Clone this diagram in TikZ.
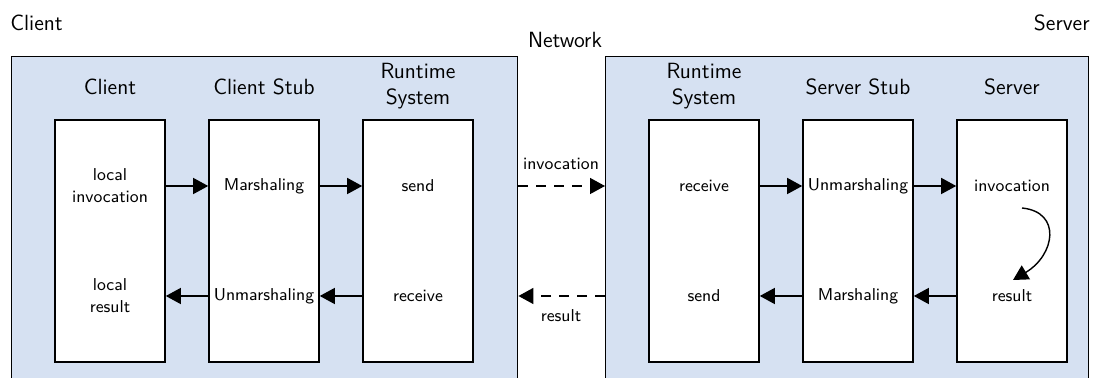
\documentclass[tikz,border=0pt]{standalone}
\usetikzlibrary{arrows.meta}
\definecolor{tierfill}{RGB}{214,225,242}
\begin{document}
\begin{tikzpicture}[x=0.5pt,y=-0.5pt,
  font=\sffamily,
  tier/.style={fill=tierfill,draw=black,line width=0.7pt,inner sep=0pt,anchor=north west},
  blk/.style={draw=black,fill=white,line width=0.8pt,minimum width=55pt,minimum height=121pt,inner sep=0pt},
  head/.style={font=\sffamily\fontsize{11}{13}\selectfont,align=center,inner sep=0pt},
  item/.style={font=\sffamily\fontsize{8.6}{11}\selectfont,align=center,inner sep=0pt},
  flow/.style={-{Triangle[length=7.5pt,width=8pt]},line width=0.7pt},
  net/.style={flow,dash pattern=on 5pt off 4pt},
]
\useasboundingbox (0,0) rectangle (1098,378);
\clip (0,0) rectangle (1098,378);

% the two machines (their lower edge runs off the page)
\node[tier,minimum width=253pt,minimum height=172pt] (cl) at (11,56) {};
\node[tier,minimum width=241.5pt,minimum height=172pt] (sv) at (605,56) {};

% titles
\node[head,anchor=west] (tcl) at (10,23) {Client};
\node[head,anchor=east] (tsv) at (1090,23) {Server};
\node[head] (tnet) at (565,40) {Network};

% layer boxes
\node[blk] (b1) at (110,241) {};
\node[blk] (b2) at (264,241) {};
\node[blk] (b3) at (418,241) {};
\node[blk] (b4) at (704,241) {};
\node[blk] (b5) at (858,241) {};
\node[blk] (b6) at (1012,241) {};

% layer headings
\node[head] (h1) at (110,87) {Client};
\node[head] (h2) at (264,87) {Client Stub};
\node[head] (h3) at (418,86) {Runtime\\System};
\node[head] (h4) at (704,86) {Runtime\\System};
\node[head] (h5) at (858,87) {Server Stub};
\node[head] (h6) at (1012,87) {Server};

% request row
\node[item] (c1) at (110,186) {local\\invocation};
\node[item] (c2) at (264,186) {Marshaling};
\node[item] (c3) at (418,186) {send};
\node[item] (s1) at (704,186) {receive};
\node[item] (s2) at (858,186) {Unmarshaling};
\node[item] (s3) at (1012,186) {invocation};

% reply row
\node[item] (d1) at (110,296) {local\\result};
\node[item] (d2) at (264,296) {Unmarshaling};
\node[item] (d3) at (418,296) {receive};
\node[item] (r1) at (704,296) {send};
\node[item] (r2) at (858,296) {Marshaling};
\node[item] (r3) at (1012,296) {result};

% network labels
\node[item] (ninv) at (561,164) {invocation};
\node[item] (nres) at (561,316) {result};

% request path
\draw[flow] (b1.east |- c2.center) -- (b2.west |- c2.center);
\draw[flow] (b2.east |- c2.center) -- (b3.west |- c2.center);
\draw[net]  (cl.east |- c2.center) -- (sv.west |- c2.center);
\draw[flow] (b4.east |- s2.center) -- (b5.west |- s2.center);
\draw[flow] (b5.east |- s2.center) -- (b6.west |- s2.center);

% server-side execution
\coordinate (loopA) at (1022,208);
\coordinate (loopB) at (1013,280);
\draw[flow] (loopA) .. controls (1062,212) and (1055,255) .. (loopB);

% reply path
\draw[flow] (b6.west |- r2.center) -- (b5.east |- r2.center);
\draw[flow] (b5.west |- r2.center) -- (b4.east |- r2.center);
\draw[net]  (sv.west |- r2.center) -- (cl.east |- r2.center);
\draw[flow] (b3.west |- d2.center) -- (b2.east |- d2.center);
\draw[flow] (b2.west |- d2.center) -- (b1.east |- d2.center);
\end{tikzpicture}
\end{document}
